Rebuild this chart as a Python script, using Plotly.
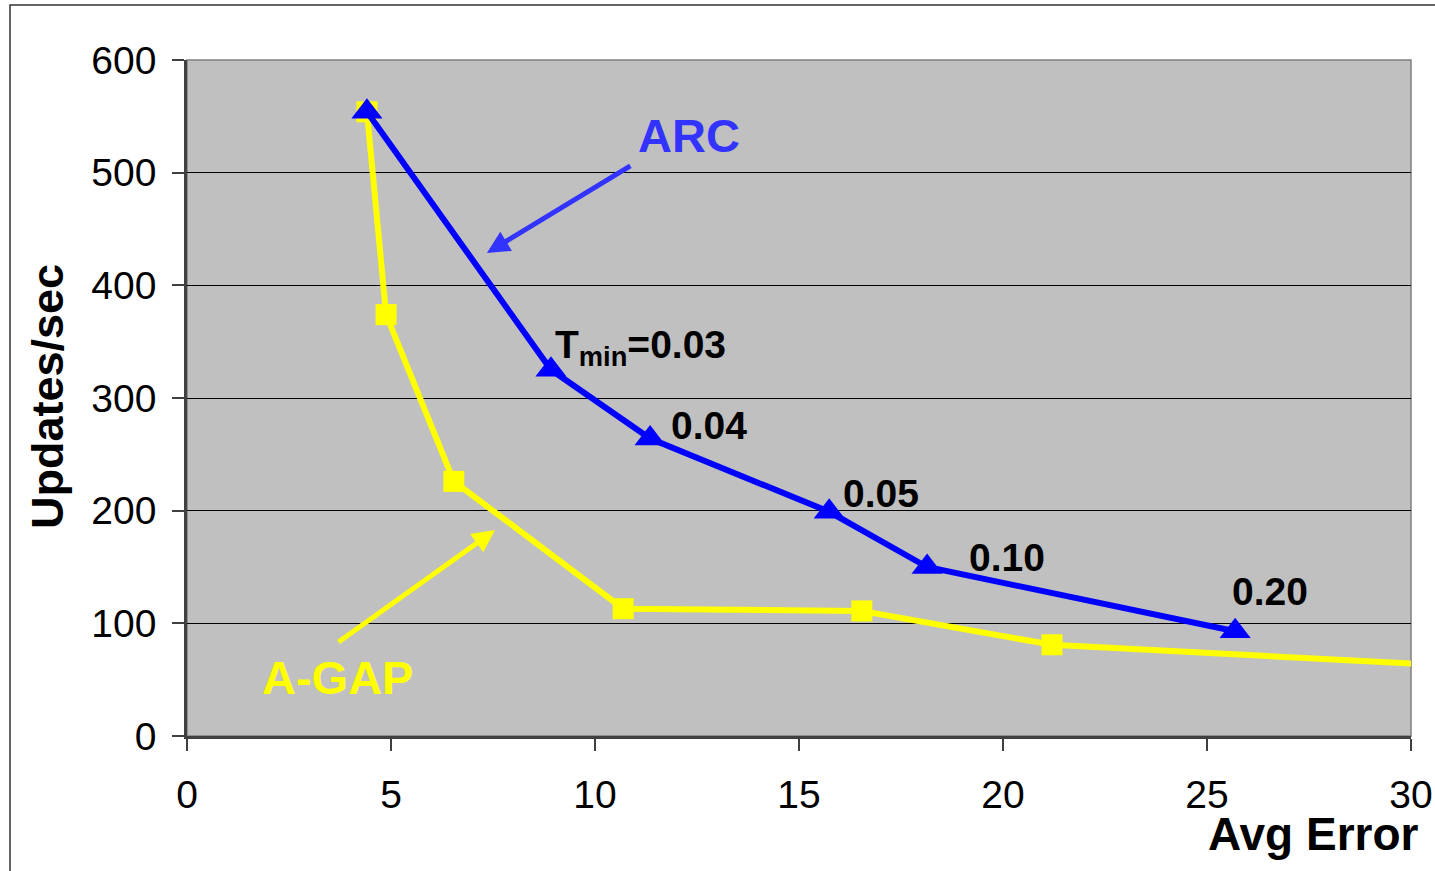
import plotly.graph_objects as go

# ---- data ----
arc_x = [4.41, 8.92, 11.35, 15.74, 18.14, 25.69]
arc_y = [554, 325, 264, 199, 150, 93]
arc_labels = ["", "T<sub>min</sub>=0.03", "0.04", "0.05", "0.10", "0.20"]

agap_x = [4.41, 4.88, 6.54, 10.69, 16.54, 21.2, 36.0]
agap_y = [554, 374, 226, 113, 111, 81, 53]

x_ticks = [0, 5, 10, 15, 20, 25, 30]
y_ticks = [0, 100, 200, 300, 400, 500, 600]

FONT = "Liberation Sans, Arial, sans-serif"

fig = go.Figure()

fig.add_trace(go.Scatter(
    x=agap_x, y=agap_y, mode="lines+markers", name="A-GAP",
    line=dict(color="#FFFF00", width=6),
    marker=dict(symbol="square", size=21, color="#FFFF00"),
))
fig.add_trace(go.Scatter(
    x=arc_x, y=arc_y, mode="lines+markers", name="ARC",
    line=dict(color="#0000FF", width=6),
    marker=dict(symbol="triangle-up", size=27, color="#0000FF"),
))

# value labels next to ARC points
shifts = [(0, 0), (2, 22), (19, 13), (12, 18), (40, 10), (-5, 40)]
for xv, yv, lab, (dx, dy) in zip(arc_x, arc_y, arc_labels, shifts):
    if not lab:
        continue
    fig.add_annotation(x=xv, y=yv, text="<b>" + lab + "</b>", showarrow=False,
                       xanchor="left", yanchor="middle", xshift=dx, yshift=dy,
                       font=dict(family=FONT, size=39, color="black"))

# series name callouts with arrows
fig.add_annotation(x=7.35, y=428.7, ax=145, ay=-88, text="", showarrow=True,
                   arrowhead=2, arrowsize=0.9, arrowwidth=5, arrowcolor="#3333FF")
fig.add_annotation(x=12.3, y=533, text="<b>ARC</b>", showarrow=False,
                   xanchor="center", yanchor="middle",
                   font=dict(family=FONT, size=47, color="#3333FF"))
fig.add_annotation(x=7.55, y=182.8, ax=-158, ay=113, text="", showarrow=True,
                   arrowhead=2, arrowsize=0.9, arrowwidth=5, arrowcolor="#FFFF00")
fig.add_annotation(x=3.68, y=52, text="<b>A-GAP</b>", showarrow=False,
                   xanchor="center", yanchor="middle",
                   font=dict(family=FONT, size=47, color="#FFFF00"))

# axis titles
fig.add_annotation(xref="paper", yref="paper", x=(1421 - 187) / 1224, y=(736 - 834) / 676,
                   text="<b>Avg Error</b>", showarrow=False, xanchor="right", yanchor="middle",
                   font=dict(family=FONT, size=46, color="black"))
fig.add_annotation(xref="paper", yref="paper", x=(47 - 187) / 1224, y=(736 - 397) / 676,
                   text="<b>Updates/sec</b>", showarrow=False, textangle=-90,
                   xanchor="center", yanchor="middle",
                   font=dict(family=FONT, size=45, color="black"))

# plot area border and outer chart border
fig.add_shape(type="rect", xref="paper", yref="paper", x0=0, x1=1, y0=0, y1=1,
              line=dict(color="#808080", width=1.5), layer="below")
fig.add_shape(type="rect", xref="paper", yref="paper",
              x0=(10 - 187) / 1224, x1=1.2, y0=-0.5, y1=(736 - 5) / 676,
              line=dict(color="#333333", width=1.5), layer="below")

fig.update_layout(
    width=1435, height=871,
    margin=dict(l=187, r=24, t=60, b=135, autoexpand=False),
    paper_bgcolor="white", plot_bgcolor="#C0C0C0",
    showlegend=False,
    font=dict(family=FONT, size=39, color="black"),
)
fig.update_xaxes(range=[0, 30], tickvals=x_ticks, ticks="outside", ticklen=12,
                 tickwidth=1.5, tickcolor="#404040", showgrid=False, zeroline=False,
                 showline=True, linecolor="#404040", linewidth=2.5, automargin=False,
                 ticklabelstandoff=10, tickfont=dict(size=39))
fig.update_yaxes(range=[0, 600], tickvals=y_ticks, ticks="outside", ticklen=12,
                 tickwidth=1.5, tickcolor="#404040", showgrid=True, gridcolor="black",
                 gridwidth=1, zeroline=False, showline=True, linecolor="#404040",
                 linewidth=2.5, automargin=False,
                 ticklabelstandoff=8, tickfont=dict(size=39))

# remove the default 8px page margin so the figure fills the window exactly
fig.write_html("out.html", config={"displayModeBar": False},
               post_script="document.body.style.margin='0';document.body.style.overflow='hidden';")
